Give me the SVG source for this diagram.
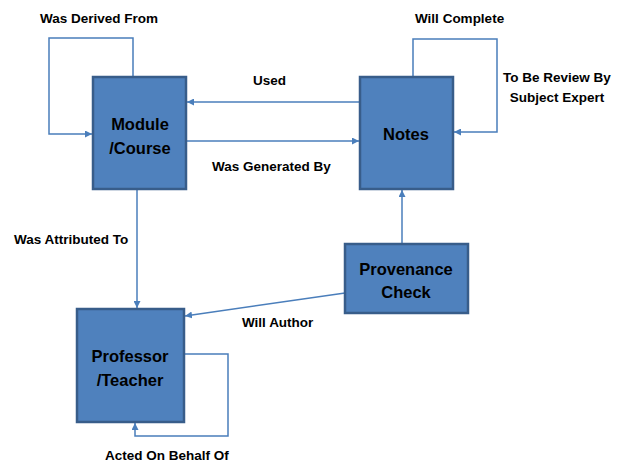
<svg xmlns="http://www.w3.org/2000/svg" width="623" height="462" viewBox="0 0 623 462">
<style>
.node rect{fill:#4F81BD;stroke:#385D8A;stroke-width:2.5}
.nl{font-family:"Liberation Sans",Arial,sans-serif;font-weight:bold;font-size:16.5px;fill:#000;text-anchor:middle}
.el{font-family:"Liberation Sans",Arial,sans-serif;font-weight:bold;font-size:13.5px;fill:#000}
.c{fill:none;stroke:#4A7EBB;stroke-width:1.5}
</style>
<defs>
<marker id="ah" viewBox="0 0 10 10" refX="10" refY="5" markerWidth="7" markerHeight="7" markerUnits="userSpaceOnUse" orient="auto">
<path d="M0,0 L10,5 L0,10 z" fill="#4A7EBB"/>
</marker>
</defs>
<rect width="623" height="462" fill="#fff"/>
<g id="connectors">
<path class="c" d="M133,77 V38 H49 V134 H92" marker-end="url(#ah)"/>
<path class="c" d="M360,102 H187" marker-end="url(#ah)"/>
<path class="c" d="M186,141 H359" marker-end="url(#ah)"/>
<path class="c" d="M413,77 V39 H497 V132 H454" marker-end="url(#ah)"/>
<path class="c" d="M137,189 V308" marker-end="url(#ah)"/>
<path class="c" d="M402,244 V190" marker-end="url(#ah)"/>
<path class="c" d="M345,293 L185,316" marker-end="url(#ah)"/>
<path class="c" d="M184,354 H228 V436 H135 V423" marker-end="url(#ah)"/>
</g>
<g id="edge-labels">
<text class="el" x="40" y="23">Was Derived From</text>
<text class="el" x="253" y="85">Used</text>
<text class="el" x="212" y="171">Was Generated By</text>
<text class="el" x="415" y="23">Will Complete</text>
<text class="el" x="557" y="82" text-anchor="middle">To Be Review By</text>
<text class="el" x="557" y="102" text-anchor="middle">Subject Expert</text>
<text class="el" x="14" y="244">Was Attributed To</text>
<text class="el" x="242" y="327">Will Author</text>
<text class="el" x="105" y="460">Acted On Behalf Of</text>
</g>
<g id="module" class="node">
<rect x="93" y="77" width="93" height="112"/>
<text class="nl" x="140" y="130">Module</text>
<text class="nl" x="140" y="154">/Course</text>
</g>
<g id="notes" class="node">
<rect x="360" y="77" width="93" height="112"/>
<text class="nl" x="406" y="140">Notes</text>
</g>
<g id="provenance" class="node">
<rect x="345" y="244" width="123" height="69"/>
<text class="nl" x="406" y="275">Provenance</text>
<text class="nl" x="406" y="298">Check</text>
</g>
<g id="professor" class="node">
<rect x="77" y="309" width="107" height="113"/>
<text class="nl" x="130" y="362">Professor</text>
<text class="nl" x="130" y="386">/Teacher</text>
</g>
</svg>
